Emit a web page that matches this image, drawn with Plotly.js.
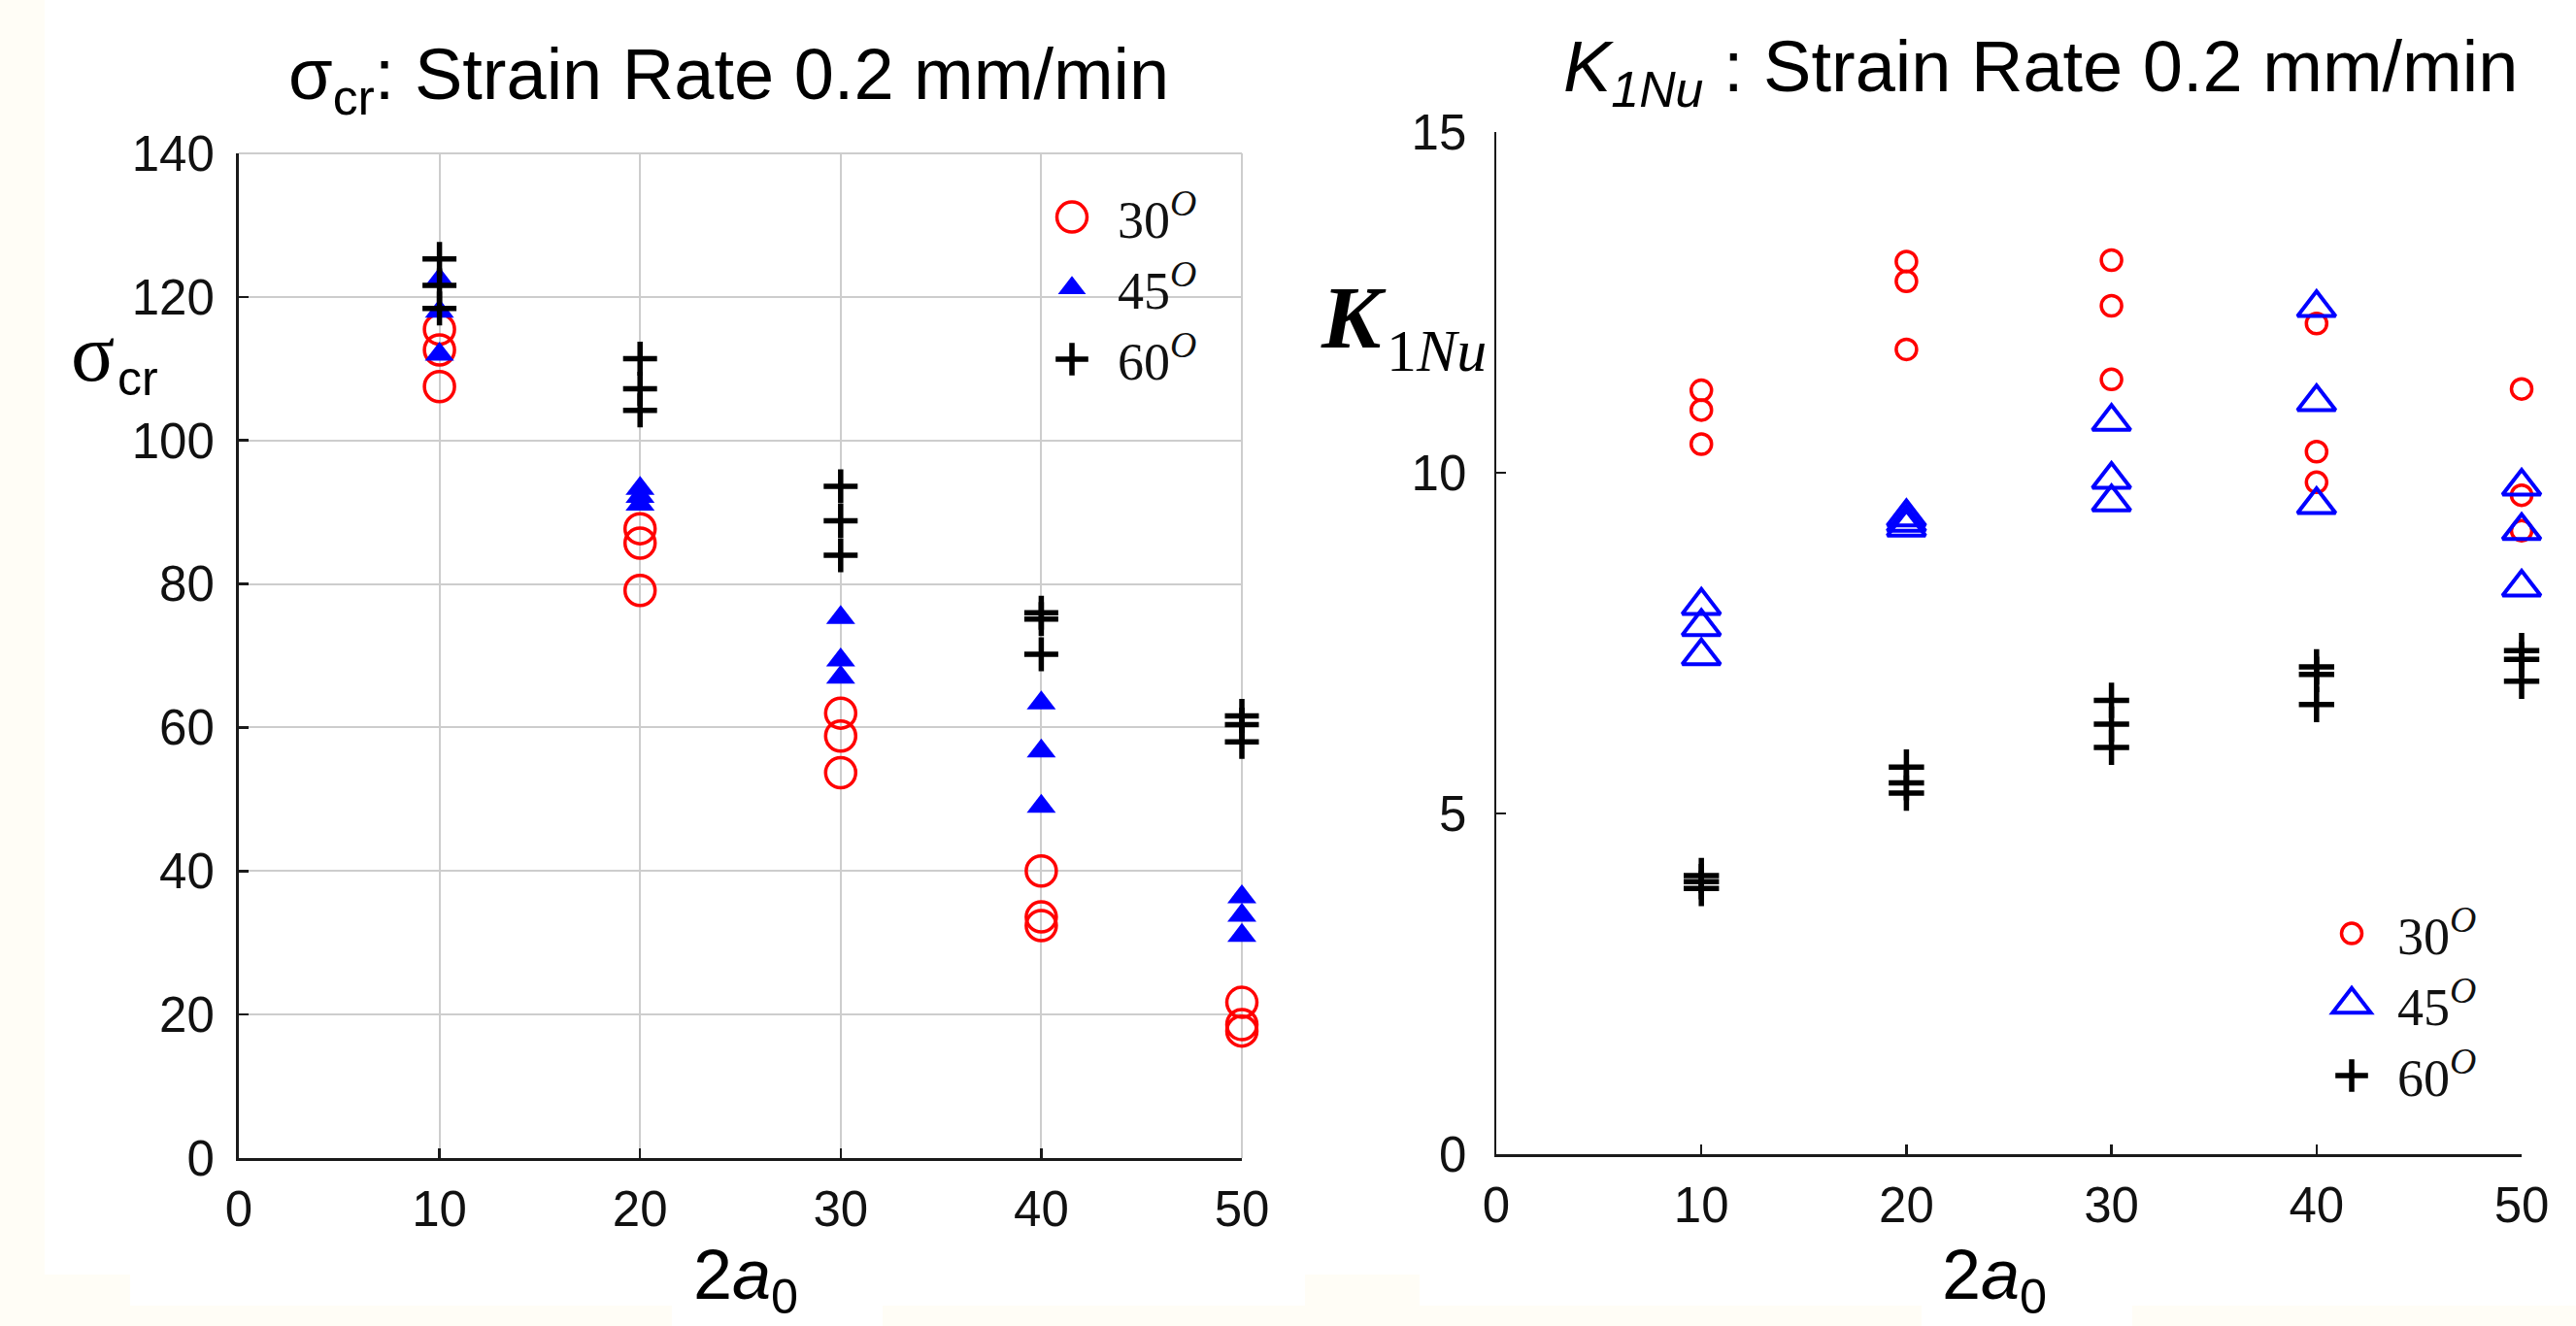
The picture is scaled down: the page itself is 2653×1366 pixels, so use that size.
<!DOCTYPE html>
<html>
<head>
<meta charset="utf-8">
<script src="https://cdn.plot.ly/plotly-3.0.1.min.js"></script>
<style>
html,body{margin:0;padding:0;background:#ffffff;}
#chart{width:2653px;height:1366px;}
</style>
</head>
<body>
<div id="chart"></div>
<script>
// ---------- data ----------
const crackLengths = [10, 20, 30, 40, 50];          // 2a0
const angleLabels = ['30<sup><i>O</i></sup>', '45<sup><i>O</i></sup>', '60<sup><i>O</i></sup>'];

// sigma_cr, three specimens per crack length
const sigma30 = [115.5, 112.6, 107.5,  87.7, 85.7, 79.1,  62.0, 58.8, 53.7,  40.0, 33.6, 32.4,  21.7, 18.6, 17.7];
const sigma45 = [122.4, 118.0, 112.0,  93.3, 92.2, 91.1,  75.3, 69.4, 67.0,  63.4, 56.7, 49.0,  36.4, 33.8, 31.0];
const sigma60 = [125.3, 121.6, 118.4, 111.4, 107.2, 104.2, 93.6, 88.8, 84.0,  76.0, 75.1, 70.2,  61.6, 60.4, 58.0];

// K_1Nu, three specimens per crack length
const k30 = [11.21, 10.92, 10.42,  13.10, 12.81, 11.81,  13.12, 12.45, 11.37,  12.19, 10.31, 9.86,  11.23, 9.67, 9.15];
const k45 = [8.05, 7.74, 7.31,     9.35, 9.27, 9.20,     10.75, 9.90, 9.57,    12.42, 11.04, 9.53,  9.80, 9.15, 8.32];
const k60 = [4.09, 4.00, 3.90,     5.68, 5.45, 5.30,     6.66, 6.31, 5.97,     7.15, 7.04, 6.60,   7.39, 7.26, 6.94];

const sigmaTicks = [0, 20, 40, 60, 80, 100, 120, 140];
const kTicks = [0, 5, 10, 15];
const xTicks = [0, 10, 20, 30, 40, 50];

// ---------- layout helpers ----------
const W = 2653, H = 1366;
const px = v => v / W;
const py = v => 1 - v / H;
const xRep = crackLengths.flatMap(c => [c, c, c]);

const RED = '#ff0000', BLUE = '#0000ff', BLACK = '#000000';
const AXC = '#1a1a1a';

function sc(yvals, name, xa, ya, legend, marker, legSize, legLine) {
  return {
    type: 'scatter', mode: 'markers', x: xRep, y: yvals, name: name,
    xaxis: xa, yaxis: ya, legend: legend, cliponaxis: false,
    marker: marker, hoverinfo: 'x+y',
    meta: {ls: legSize, lw: legLine}
  };
}

const traces = [
  sc(sigma30, angleLabels[0], 'x', 'y', 'legend',
     {symbol: 'circle-open', size: 31, color: RED, line: {color: RED, width: 3.5}}, 31, 3.5),
  sc(sigma45, angleLabels[1], 'x', 'y', 'legend',
     {symbol: 'triangle-up', size: 26, color: BLUE, line: {width: 0}}, 25, 0),
  sc(sigma60, angleLabels[2], 'x', 'y', 'legend',
     {symbol: 'cross-thin', size: 25, color: BLACK, line: {color: BLACK, width: 5.5}}, 24, 5.5),
  sc(k30, angleLabels[0], 'x2', 'y2', 'legend2',
     {symbol: 'circle-open', size: 21, color: RED, line: {color: RED, width: 3.5}}, 21, 3.5),
  sc(k45, angleLabels[1], 'x2', 'y2', 'legend2',
     {symbol: 'triangle-up-open', size: 34, color: BLUE, line: {color: BLUE, width: 4}}, 34, 4),
  sc(k60, angleLabels[2], 'x2', 'y2', 'legend2',
     {symbol: 'cross-thin', size: 26, color: BLACK, line: {color: BLACK, width: 5.5}}, 24, 5.5)
];

const tickFont = {family: 'Liberation Sans, Arial, sans-serif', size: 51, color: '#111'};

function axisBase(extra) {
  return Object.assign({
    showline: true, linecolor: AXC, linewidth: 3,
    ticks: 'inside', ticklen: 10, tickwidth: 2.5, tickcolor: AXC,
    zeroline: false, tickfont: tickFont, fixedrange: true
  }, extra);
}

const layout = {
  width: W, height: H,
  margin: {l: 0, r: 0, t: 0, b: 0, pad: 0},
  paper_bgcolor: '#ffffff', plot_bgcolor: '#ffffff',
  font: {family: 'Liberation Sans, Arial, sans-serif', color: '#000'},
  showlegend: true,
  xaxis: axisBase({domain: [px(246), px(1279)], range: [0, 50], tickvals: xTicks, anchor: 'y',
    showgrid: true, gridcolor: '#cdcdcd', gridwidth: 2, ticklabelstandoff: 6}),
  yaxis: axisBase({domain: [py(1193), py(158)], range: [0, 140], tickvals: sigmaTicks, anchor: 'x',
    showgrid: true, gridcolor: '#cdcdcd', gridwidth: 2, ticklabelstandoff: 12}),
  xaxis2: axisBase({domain: [px(1541), px(2597)], range: [0, 50], tickvals: xTicks, anchor: 'y2',
    showgrid: false, linewidth: 2.5, ticklabelstandoff: 6}),
  yaxis2: axisBase({domain: [py(1189), py(136)], range: [0, 15], tickvals: kTicks, anchor: 'x2',
    showgrid: false, linewidth: 2.5, ticklabelstandoff: 18}),
  legend: {x: px(1057), y: py(182), xanchor: 'left', yanchor: 'top', bgcolor: 'rgba(0,0,0,0)',
    borderwidth: 0, itemwidth: 84, tracegroupgap: 0,
    font: {family: 'Liberation Serif, Times New Roman, serif', size: 54, color: '#111'}},
  legend2: {x: px(2375), y: py(920), xanchor: 'left', yanchor: 'top', bgcolor: 'rgba(0,0,0,0)',
    borderwidth: 0, itemwidth: 84, tracegroupgap: 0,
    font: {family: 'Liberation Serif, Times New Roman, serif', size: 54, color: '#111'}},
  shapes: [
    // light grey box edges of the left panel (top & right)
    {type: 'line', xref: 'x domain', yref: 'y domain', x0: 0, x1: 1, y0: 1, y1: 1,
     line: {color: '#cdcdcd', width: 2}, layer: 'below'},
    {type: 'line', xref: 'x domain', yref: 'y domain', x0: 1, x1: 1, y0: 0, y1: 1,
     line: {color: '#cdcdcd', width: 2}, layer: 'below'},
    // faint cream background strips of the slide
    {type: 'rect', xref: 'paper', yref: 'paper', x0: 0, x1: px(46), y0: 0, y1: 1,
     fillcolor: '#fffdf6', line: {width: 0}, layer: 'below'},
    {type: 'rect', xref: 'paper', yref: 'paper', x0: px(46), x1: px(134), y0: 0, y1: py(1313),
     fillcolor: '#fffdf6', line: {width: 0}, layer: 'below'},
    {type: 'rect', xref: 'paper', yref: 'paper', x0: px(134), x1: px(692), y0: 0, y1: py(1345),
     fillcolor: '#fffdf6', line: {width: 0}, layer: 'below'},
    {type: 'rect', xref: 'paper', yref: 'paper', x0: px(909), x1: px(1979), y0: 0, y1: py(1345),
     fillcolor: '#fffdf6', line: {width: 0}, layer: 'below'},
    {type: 'rect', xref: 'paper', yref: 'paper', x0: px(1344), x1: px(1462), y0: 0, y1: py(1313),
     fillcolor: '#fffdf6', line: {width: 0}, layer: 'below'},
    {type: 'rect', xref: 'paper', yref: 'paper', x0: px(2196), x1: 1, y0: 0, y1: py(1345),
     fillcolor: '#fffdf6', line: {width: 0}, layer: 'below'}
  ],
  annotations: [
    {text: 'σ<sub>cr</sub>: Strain Rate 0.2 mm/min', xref: 'paper', yref: 'paper',
     x: px(750), y: py(82), xanchor: 'center', yanchor: 'middle', showarrow: false,
     font: {family: 'Liberation Sans, Arial, sans-serif', size: 74, color: '#000'}},
    {text: '<i>K</i><sub><i>1Nu</i></sub> : Strain Rate 0.2 mm/min', xref: 'paper', yref: 'paper',
     x: px(2101), y: py(74), xanchor: 'center', yanchor: 'middle', showarrow: false,
     font: {family: 'Liberation Sans, Arial, sans-serif', size: 74, color: '#000'}},
    // y-axis labels
    {text: 'σ', xref: 'paper', yref: 'paper', x: px(95), y: py(363), xanchor: 'center', yanchor: 'middle',
     showarrow: false, font: {family: 'Liberation Serif, Times New Roman, serif', size: 84, color: '#000'}},
    {text: 'cr', xref: 'paper', yref: 'paper', x: px(142), y: py(390), xanchor: 'center', yanchor: 'middle',
     showarrow: false, font: {family: 'Liberation Sans, Arial, sans-serif', size: 50, color: '#000'}},
    {text: '<b><i>K</i></b>', xref: 'paper', yref: 'paper', x: px(1394), y: py(327), xanchor: 'center', yanchor: 'middle',
     showarrow: false, font: {family: 'Liberation Serif, Times New Roman, serif', size: 92, color: '#000'}},
    {text: '1<i>Nu</i>', xref: 'paper', yref: 'paper', x: px(1479), y: py(361), xanchor: 'center', yanchor: 'middle',
     showarrow: false, font: {family: 'Liberation Serif, Times New Roman, serif', size: 62, color: '#000'}},
    // x-axis labels
    {text: '2<i>a</i><sub>0</sub>', xref: 'paper', yref: 'paper', x: px(768), y: py(1318), xanchor: 'center', yanchor: 'middle',
     showarrow: false, font: {family: 'Liberation Sans, Arial, sans-serif', size: 72, color: '#000'}},
    {text: '2<i>a</i><sub>0</sub>', xref: 'paper', yref: 'paper', x: px(2054), y: py(1318), xanchor: 'center', yanchor: 'middle',
     showarrow: false, font: {family: 'Liberation Sans, Arial, sans-serif', size: 72, color: '#000'}}
  ]
};

Plotly.newPlot('chart', traces, layout, {staticPlot: true, displayModeBar: false}).then(function(gd) {
  // enlarge legend symbols (Plotly caps legend marker size at 16px)
  try {
    gd.querySelectorAll('g.traces').forEach(function(g) {
      var d = g.__data__;
      var tr = d && d[0] && d[0].trace;
      if (!tr || !tr.meta) return;
      var p = g.querySelector('path.scatterpts');
      if (!p) return;
      var k = tr.meta.ls / 16;
      var t = p.getAttribute('transform') || '';
      p.setAttribute('transform', t + ' scale(' + k + ')');
      if (tr.meta.lw > 0) p.style.strokeWidth = (tr.meta.lw / k) + 'px';
    });
  } catch (e) {}
});
</script>
</body>
</html>
